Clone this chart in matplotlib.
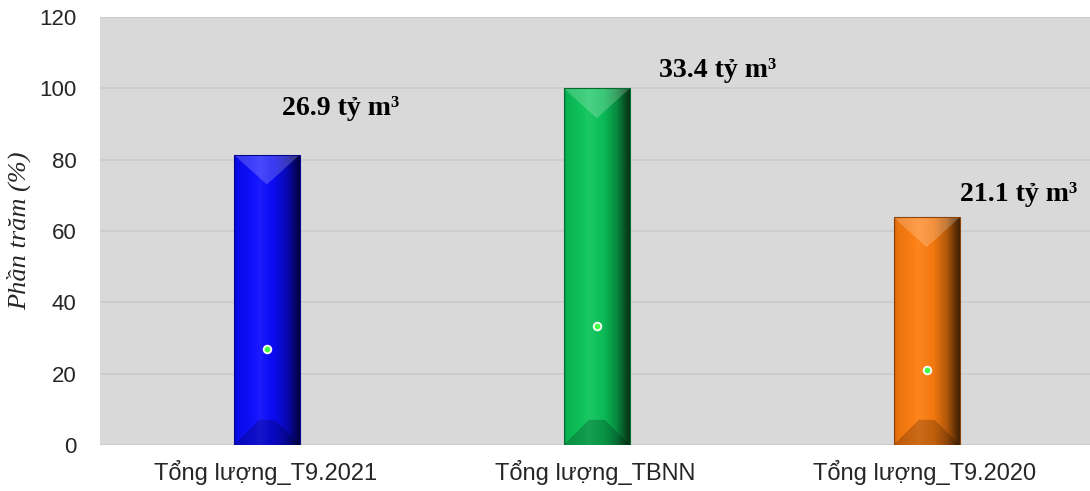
import numpy as np
import matplotlib
matplotlib.use("Agg")
import matplotlib.pyplot as plt
from matplotlib.patches import Polygon
from matplotlib.colors import to_rgb

categories = ["Tổng lượng_T9.2021", "Tổng lượng_TBNN", "Tổng lượng_T9.2020"]
percent = [81.4, 100.0, 63.8]
volume = [26.9, 33.4, 21.1]
labels = ["26.9 tỷ m³", "33.4 tỷ m³", "21.1 tỷ m³"]
bar_colors = ["#0808ff", "#08c458", "#ff7c0c"]
yticks = [0, 20, 40, 60, 80, 100, 120]

label_dx = [0.23, 0.37, 0.285]
label_y = [94.5, 105.0, 70.2]

fig = plt.figure(figsize=(10.9, 4.91), dpi=100)
ax = fig.add_axes([0.092, 0.094, 0.908, 0.871])
ax.set_facecolor("#d9d9d9")
ax.set_xlim(-0.5, 2.5)
ax.set_ylim(0, 120)
ax.set_yticks(yticks)
ax.grid(axis="y", color="#cbcbcb", linewidth=1.2)
ax.set_axisbelow(True)
for s in ax.spines.values():
    s.set_visible(False)
ax.tick_params(length=0)
ax.tick_params(axis="y", pad=17, labelsize=16, labelcolor="#262626")
ax.tick_params(axis="x", pad=11, labelsize=17, labelcolor="#262626")

x = np.arange(len(categories))
bars = ax.bar(x + 0.005, percent, width=0.2, color=bar_colors, edgecolor="none", zorder=2)
ax.set_xticks(x)
ax.set_xticklabels(categories)
for t in ax.get_yticklabels() + ax.get_xticklabels():
    t.set_family("Liberation Sans")

fig.canvas.draw()
p0 = ax.transData.transform((0, 0))
p1 = ax.transData.transform((1, 1))
ppx = p1[0] - p0[0]
ppy = p1[1] - p0[1]

for b, c in zip(bars, bar_colors):
    b.set_visible(False)
    x0, w, h = b.get_x(), b.get_width(), b.get_height()
    base = np.array(to_rgb(c))
    t = np.linspace(0, 1, 200)
    prof = np.interp(t, [0, 0.05, 0.35, 0.6, 0.8, 0.93, 1.0], [0.8, 0.92, 1.0, 0.95, 0.7, 0.4, 0.25])
    light = np.interp(t, [0, 0.3, 0.4, 0.55, 1.0], [0, 0.04, 0.08, 0.02, 0])
    img = base[None, :] * prof[:, None] + light[:, None] * (1 - base[None, :])
    img = np.clip(img, 0, 1)[None, :, :]
    im = ax.imshow(img, extent=(x0, x0 + w, 0, h), aspect="auto", zorder=2,
                   interpolation="bilinear")
    rect = plt.Rectangle((x0, 0), w, h, transform=ax.transData)
    im.set_clip_path(rect)
    wpx = w * ppx
    depth = 0.45 * wpx / ppy
    # top bevel (lighter V)
    top = Polygon([(x0, h), (x0 + w, h), (x0 + w / 2, h - depth)], closed=True,
                  facecolor="white", alpha=0.2, edgecolor="none", zorder=3)
    ax.add_patch(top)
    bd = 25 / ppy
    inset = 25 / ppx
    bot = Polygon([(x0, 0), (x0 + w, 0), (x0 + w - inset, bd), (x0 + inset, bd)],
                  closed=True, facecolor="black", alpha=0.2, edgecolor="none", zorder=3)
    ax.add_patch(bot)
    ax.add_patch(plt.Rectangle((x0, 0), w, h, facecolor="none",
                               edgecolor=tuple(base * 0.55), linewidth=0.8, zorder=4))

ax.plot(x + 0.005, volume, linestyle="none", marker="o", markersize=5.5,
        markerfacecolor="#44ff44", markeredgecolor="white", markeredgewidth=1.3, zorder=5)

for xi, dx, ly, lab in zip(x, label_dx, label_y, labels):
    ax.text(xi + dx, ly, lab, ha="center", va="center", fontsize=20,
            fontweight="bold", family="Liberation Serif", color="black", zorder=6)

ax.set_ylabel("Phần trăm (%)", family="Liberation Serif", style="italic",
              fontsize=19, color="#262626", labelpad=6)

fig.savefig("out.png", dpi=100, facecolor="white")
